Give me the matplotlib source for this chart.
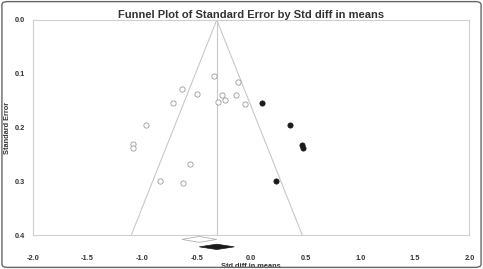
import matplotlib
matplotlib.use("Agg")
import matplotlib.pyplot as plt
from matplotlib.patches import Polygon, FancyBboxPatch
import numpy as np

plt.rcParams['font.family'] = ['Liberation Sans', 'DejaVu Sans']

# observed studies (open circles)
obs_x = [-0.337, -0.116, -0.630, -0.493, -0.263, -0.141, -0.300, -0.239,
         -0.713, -0.061, -0.966, -1.080, -1.080, -0.560, -0.838, -0.621]
obs_se = [0.105, 0.115, 0.129, 0.138, 0.140, 0.140, 0.153, 0.149,
          0.155, 0.157, 0.195, 0.230, 0.237, 0.267, 0.299, 0.302]
# imputed studies (filled circles)
imp_x = [0.095, 0.355, 0.465, 0.471, 0.223]
imp_se = [0.155, 0.195, 0.232, 0.237, 0.299]

obs_mean, obs_hw = -0.475, 0.16
adj_mean, adj_hw = -0.315, 0.16
xticks = [-2.0, -1.5, -1.0, -0.5, 0.0, 0.5, 1.0, 1.5, 2.0]
yticks = [0.0, 0.1, 0.2, 0.3, 0.4]

fig = plt.figure(figsize=(4.83, 2.69), dpi=100)
ax = fig.add_axes([0.068, 0.125, 0.904, 0.801])

# funnel
se_max = 0.4
ax.plot([adj_mean - 1.96 * se_max, adj_mean, adj_mean + 1.96 * se_max],
        [se_max, 0, se_max], color='#c8c8c8', lw=0.8)
ax.plot([adj_mean, adj_mean], [0, se_max], color='#c8c8c8', lw=0.8)

ax.plot(obs_x, obs_se, 'o', ms=3.8, mfc='white', mec='#9a9a9a', mew=0.6)
ax.plot(imp_x, imp_se, 'o', ms=3.8, mfc='#1a1a1a', mec='#1a1a1a', mew=0.5)

# summary diamonds under the axis
d1 = Polygon([[obs_mean - obs_hw, 0.4075], [obs_mean, 0.402],
              [obs_mean + obs_hw, 0.4075], [obs_mean, 0.413]],
             closed=True, fc='white', ec='#b0b0b0', lw=0.6, clip_on=False)
d2 = Polygon([[adj_mean - adj_hw, 0.4213], [adj_mean, 0.4163],
              [adj_mean + adj_hw, 0.4213], [adj_mean, 0.4263]],
             closed=True, fc='#1a1a1a', ec='#1a1a1a', lw=0.5, clip_on=False)
ax.add_patch(d1)
ax.add_patch(d2)

ax.set_xlim(-2, 2)
ax.set_ylim(0.4, 0)
ax.set_xticks(xticks)
ax.set_yticks(yticks)
ax.set_xticklabels([f"{t:.1f}" for t in xticks], fontsize=5.3, fontweight='bold', color='#333333')
ax.set_yticklabels([f"{t:.1f}" for t in yticks], fontsize=5.3, fontweight='bold', color='#333333')
ax.tick_params(axis='x', length=0, pad=14)
ax.tick_params(axis='y', length=0, pad=6)
for s in ax.spines.values():
    s.set_color('#cfcfcf')
    s.set_linewidth(0.8)

ax.set_title("Funnel Plot of Standard Error by Std diff in means", fontsize=8,
             fontweight='bold', color='#333333', pad=1)
ax.set_xlabel("Std diff in means", fontsize=5.3, fontweight='bold', color='#333333', labelpad=1)
ax.set_ylabel("Standard Error", fontsize=5.3, fontweight='bold', color='#333333', labelpad=2)

border = FancyBboxPatch((0.004, 0.006), 0.992, 0.988, boxstyle="round,pad=0,rounding_size=0.012",
                        transform=fig.transFigure, fc='none', ec='#666666', lw=1.0)
fig.patches.append(border)

fig.savefig("out.png", dpi=100)
